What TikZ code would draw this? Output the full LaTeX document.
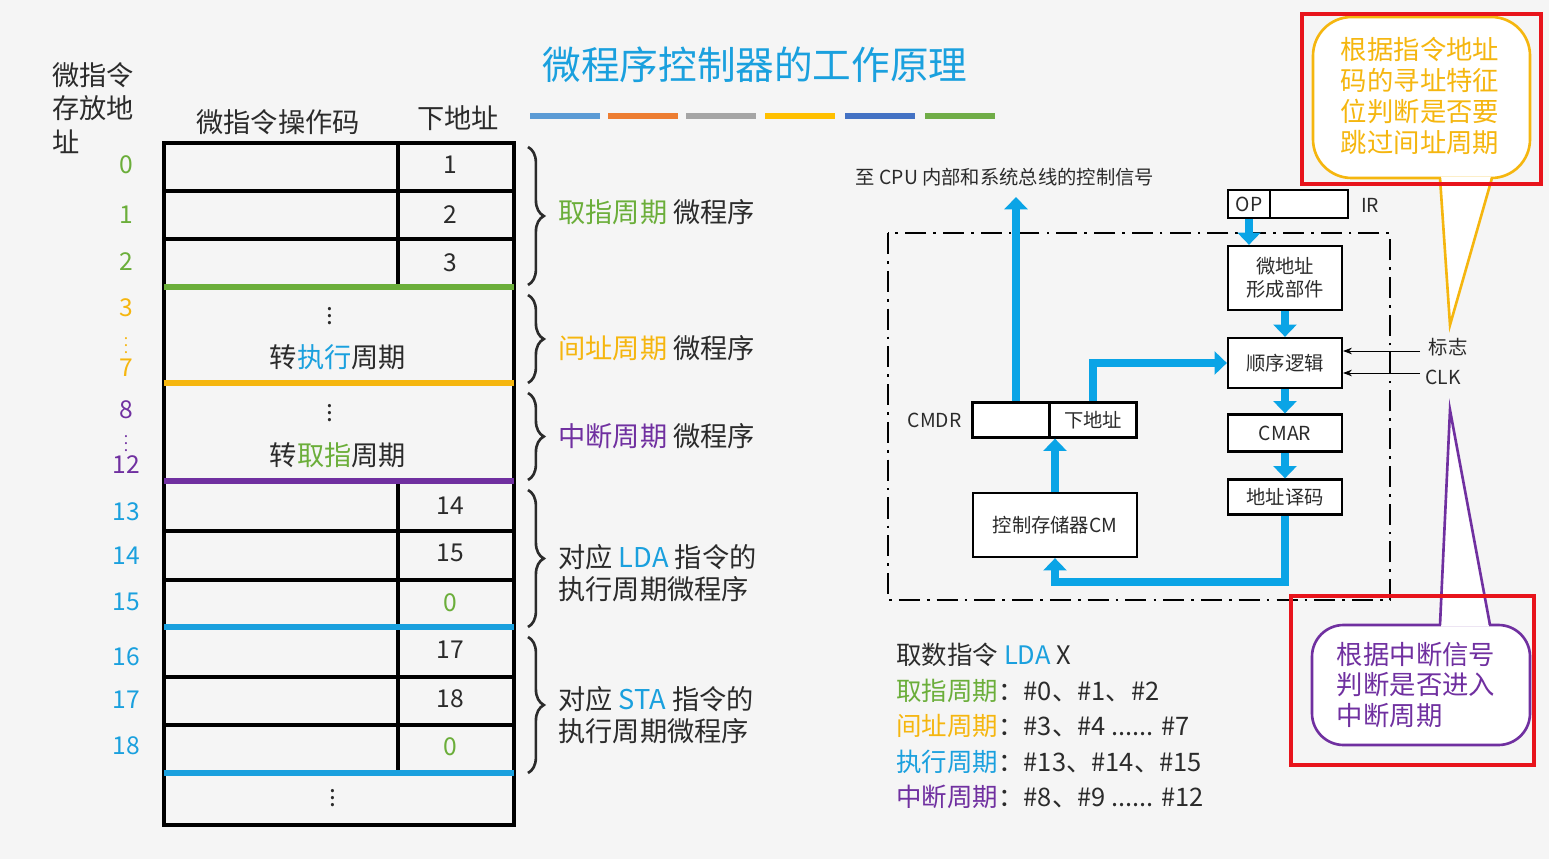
\documentclass[tikz,border=0pt]{standalone}
\usepackage{fontspec}
\setmainfont{Noto Sans CJK SC}
\usepackage{xcolor}
\usepackage{tikz}
\usetikzlibrary{arrows.meta,positioning,calc}
\usetikzlibrary{decorations.pathreplacing}
\definecolor{cgreen}{HTML}{6BAE3A}
\definecolor{cyell}{HTML}{F5B60F}
\definecolor{cpurp}{HTML}{7030A0}
\definecolor{cblue}{HTML}{1AA0DE}
\definecolor{cbus}{HTML}{0AA4E6}
\definecolor{ctext}{HTML}{2B2B2B}
\definecolor{cred}{HTML}{E8141C}
\begin{document}
\begin{tikzpicture}[x=0.02cm,y=-0.02cm,semithick,text=ctext,
    bus/.style={cbus,line width=4.6pt,-{Triangle[length=7pt,width=13pt]}},
    sig/.style={black,thin,-{Stealth[length=5pt]}},
    blk/.style={draw=black,line width=1.3pt,fill=white,inner sep=0pt,font=\fontsize{11}{13}\selectfont,align=center},
    tbl/.style={draw=black,line width=1.8pt},
    lbl/.style={anchor=west,font=\fontsize{15.5}{18}\selectfont},
    adr/.style={font=\fontsize{14}{16}\selectfont},
    brc/.style={decorate,decoration={brace,amplitude=9pt},line width=1.5pt,ctext}]
 \fill[white!96!black] (0,0) rectangle (1549,859);
 \useasboundingbox (0,0) rectangle (1549,859);
 % title
 \node (title) at (755,65) {\fontsize{22}{26}\selectfont\color{cblue}微程序控制器的工作原理};
 \foreach \x/\c in {530/5B9BD5,608/ED7D31,686/A5A5A5,765/FFC000,845/4472C4,925/70AD47}{
   \definecolor{bar}{HTML}{\c}
   \fill[bar] (\x,113) rectangle ++(70,6);}
 % table headers
 \node[anchor=west,align=left,font=\fontsize{15.5}{19}\selectfont] (store) at (46,108) {微指令\\存放地\\址};
 \node[font=\fontsize{15.5}{18}\selectfont] (opc) at (278,122) {微指令操作码};
 \node[font=\fontsize{15.5}{18}\selectfont] (nxt) at (458,118) {下地址};
 % table
 \draw[tbl] (164,143) rectangle (514,825);
 \foreach \y in {191,239,531,580,677,725}
   \draw[tbl] (164,\y) -- (514,\y);
 \foreach \a/\b in {143/287,481/627,627/773}
   \draw[tbl] (398,\a) -- (398,\b);
 \draw[cgreen,line width=3pt] (164,287) -- (514,287);
 \draw[cyell,line width=3pt] (164,383) -- (514,383);
 \draw[cpurp,line width=3pt] (164,481) -- (514,481);
 \draw[cblue,line width=3pt] (164,627) -- (514,627);
 \draw[cblue,line width=3pt] (164,773) -- (514,773);
 % next addresses
 \foreach \y/\t/\c in {165/1/ctext,215/2/ctext,263/3/ctext,506/14/ctext,553/15/ctext,603/0/cgreen,650/17/ctext,699/18/ctext,747/0/cgreen}
   \node[adr,text=\c] at (450,\y) {\t};
 \node[adr,inner sep=0pt] (d1) at (330,311) {\vdots};
 \node[lbl,anchor=center] (ex) at (338,357) {转\textcolor{cblue}{执行}周期};
 \node[adr,inner sep=0pt] (d2) at (330,408) {\vdots};
 \node[lbl,anchor=center] (fe) at (338,455) {转\textcolor{cgreen}{取指}周期};
 \node[adr,inner sep=0pt] (d3) at (333,793) {\vdots};
 % storage addresses
 \foreach \y/\t/\c in {165/0/cgreen,215/1/cgreen,262/2/cgreen,308/3/cyell,368/7/cyell,410/8/cpurp,465/12/cpurp,512/13/cblue,556/14/cblue,602/15/cblue,657/16/cblue,700/17/cblue,746/18/cblue}
   \node[adr,text=\c] at (126,\y) {\t};
 \node[text=cyell,inner sep=0pt,font=\fontsize{9}{9}\selectfont] at (126,340) {\vdots};
 \node[text=cpurp,inner sep=0pt,font=\fontsize{9}{9}\selectfont] at (126,438) {\vdots};
 % braces
 \foreach \a/\b in {147/285,295/383,393/480,490/627,637/773}
   \draw[brc] (528,\a) -- (528,\b);
 \node[lbl] (l1) at (552,212) {\textcolor{cgreen}{取指周期} 微程序};
 \node[lbl] (l2) at (552,348) {\textcolor{cyell}{间址周期} 微程序};
 \node[lbl] (l3) at (552,436) {\textcolor{cpurp}{中断周期} 微程序};
 \node[lbl,align=left] (l4) at (552,573) {对应 \textcolor{cblue}{LDA} 指令的\\执行周期微程序};
 \node[lbl,align=left] (l5) at (552,715) {对应 \textcolor{cblue}{STA} 指令的\\执行周期微程序};
 % control unit
 \draw[line width=1.3pt,dash pattern=on 12pt off 4pt on 1.5pt off 4pt] (888,233) rectangle (1390,600);
 \node[font=\fontsize{11}{13}\selectfont] (sig) at (1005,177) {至 CPU 内部和系统总线的控制信号};
 \coordinate (ctl) at (1016,197);
 \node[blk,minimum width=0.84cm,minimum height=0.56cm] (op) at (1249,204) {OP};
 \node[blk,minimum width=1.56cm,minimum height=0.56cm] (irr) at (1309,204) {};
 \node[font=\fontsize{11}{13}\selectfont] (ir) at (1370,205) {IR};
 \node[blk,minimum width=2.28cm,minimum height=1.28cm] (maf) at (1285,278) {微地址\\形成部件};
 \node[blk,minimum width=2.28cm,minimum height=1.0cm] (seq) at (1285,363) {顺序逻辑};
 \node[blk,minimum width=2.28cm,minimum height=0.74cm] (cmar) at (1285,433) {CMAR};
 \node[blk,minimum width=2.28cm,minimum height=0.7cm] (dec) at (1285,497) {地址译码};
 \node[blk,minimum width=1.54cm,minimum height=0.7cm] (cmdr) at (1011,420) {};
 \node[blk,minimum width=1.74cm,minimum height=0.7cm] (nad) at (1093,420) {下地址};
 \node[font=\fontsize{11}{13}\selectfont,left=2pt of cmdr] (cmdrl) {CMDR};
 \node[blk,minimum width=3.28cm,minimum height=1.28cm] (cm) at (1055,525) {控制存储器CM};
 \node[font=\fontsize{11}{13}\selectfont] (flag) at (1448,347) {标志};
 \node[font=\fontsize{11}{13}\selectfont] (clk) at (1443,377) {CLK};
 \draw[bus] (cmdr.north -| ctl) -- (ctl);
 \draw[bus] (nad.north) |- (seq.west);
 \draw[bus] (op.south) -- (op.south |- maf.north);
 \draw[bus] (maf) -- (seq);
 \draw[bus] (seq) -- (cmar);
 \draw[bus] (cmar) -- (dec);
 \draw[bus] (dec.south) -- ++(0,66) -| (cm.south);
 \draw[bus] (cm.north) -- (cm.north |- cmdr.south);
 \draw[sig] (1420,351) -- (seq.east |- 0,351);
 \draw[sig] (1420,373) -- (seq.east |- 0,373);
 % summary
 \begin{scope}[every node/.style={anchor=west,font=\fontsize{14.5}{17}\selectfont}]
  \node (s0) at (890,655) {取数指令 \textcolor{cblue}{LDA} X};
  \node (s1) at (890,691) {\textcolor{cgreen}{取指周期}：\#0、\#1、\#2};
  \node (s2) at (890,726) {\textcolor{cyell}{间址周期}：\#3、\#4 ...... \#7};
  \node (s3) at (890,762) {\textcolor{cblue}{执行周期}：\#13、\#14、\#15};
  \node (s4) at (890,797) {\textcolor{cpurp}{中断周期}：\#8、\#9 ...... \#12};
 \end{scope}
 % callouts
 \draw[cyell,line width=1.5pt,fill=white,rounded corners=22pt] (1313,17) rectangle (1530,178);
 \fill[white] (1441,176.5) -- (1491,176.5) -- (1450,325) -- cycle;
 \draw[cyell,line width=1.5pt] (1440,178) -- (1450,325) -- (1492,178);
 \node[text=cyell,align=center,font=\fontsize{15}{17.6}\selectfont] (note1) at (1420,96) {根据指令地址\\码的寻址特征\\位判断是否要\\跳过间址周期};
 \draw[cred,line width=2.4pt] (1302,14) rectangle (1541,184);
 \draw[cpurp,line width=1.5pt,fill=white,rounded corners=18pt] (1312,625) rectangle (1530,745);
 \fill[white] (1441,626.5) -- (1489,626.5) -- (1450,410) -- cycle;
 \draw[cpurp,line width=1.5pt] (1440,625) -- (1450,410) -- (1490,625);
 \node[text=cpurp,align=left,font=\fontsize{15}{17.6}\selectfont] (note2) at (1416,685) {根据中断信号\\判断是否进入\\中断周期};
 \draw[cred,line width=2.4pt] (1291,596) rectangle (1534,765);
\end{tikzpicture}
\end{document}
